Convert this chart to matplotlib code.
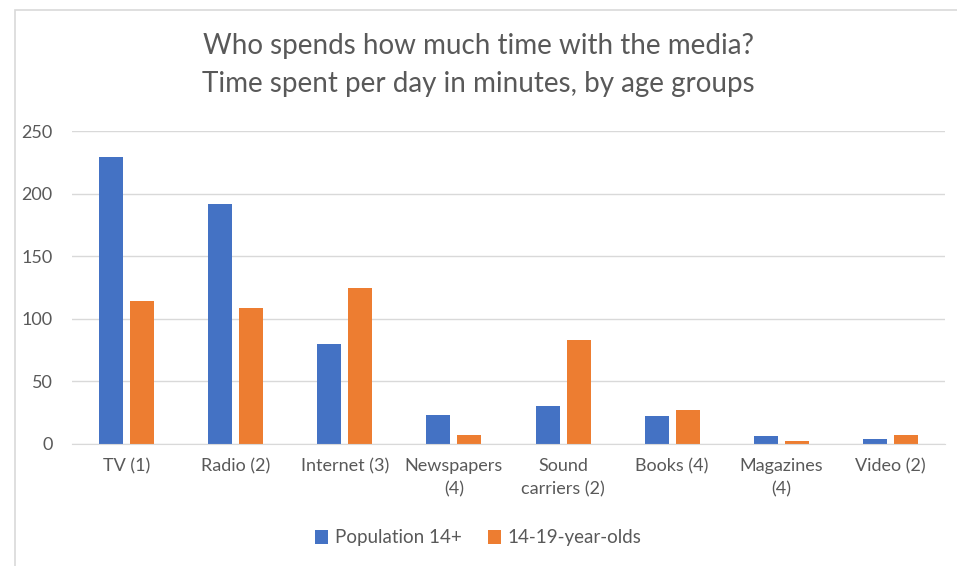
import numpy as np
import matplotlib.pyplot as plt
from matplotlib.patches import Rectangle

categories = ["TV (1)", "Radio (2)", "Internet (3)", "Newspapers\n(4)",
              "Sound\ncarriers (2)", "Books (4)", "Magazines\n(4)", "Video (2)"]
population = [229, 192, 80, 23, 30, 22, 6, 4]
teens = [114, 109, 125, 7, 83, 27, 2, 7]
series_names = ["Population 14+", "14-19-year-olds"]

blue = "#4472C4"
orange = "#ED7D31"
text_gray = "#595959"

plt.rcParams['font.family'] = ['Lato', 'DejaVu Sans']

fig = plt.figure(figsize=(9.57, 5.66), dpi=100)
# outer chart border, open to the right and bottom like the screenshot
fig.patches.append(Rectangle((15 / 957, -0.01), 1.0, 1 - 10 / 566 + 0.01,
                             transform=fig.transFigure, fill=False,
                             edgecolor="#D9D9D9", linewidth=1.2))

ax = fig.add_axes([72 / 957, 1 - 444 / 566, 873 / 957, 313 / 566])

x = np.arange(len(categories))
w = 0.22
ax.bar(x - 0.142, population, w, color=blue, label=series_names[0])
ax.bar(x + 0.142, teens, w, color=orange, label=series_names[1])

ax.set_xlim(-0.5, len(categories) - 0.5)
ax.set_ylim(0, 250)
ax.set_yticks(range(0, 251, 50))
ax.yaxis.grid(True, color="#D9D9D9", linewidth=1)
ax.set_axisbelow(True)
for s in ["top", "right", "left"]:
    ax.spines[s].set_visible(False)
ax.spines["bottom"].set_color("#D9D9D9")
ax.tick_params(axis="both", length=0, labelsize=13, colors=text_gray)
ax.tick_params(axis="y", pad=14)
ax.tick_params(axis="x", pad=10)
ax.set_xticks(x)
ax.set_xticklabels(categories, linespacing=1.55)

fig.text(0.5, 1 - 65 / 566, "Who spends how much time with the media?\nTime spent per day in minutes, by age groups",
         ha="center", va="center", fontsize=20, color=text_gray, linespacing=1.6)

fig.legend(loc="center", bbox_to_anchor=(0.5, 1 - 538 / 566), ncol=2, frameon=False,
           fontsize=13.5, labelcolor=text_gray, handlelength=0.7, handleheight=0.7,
           handletextpad=0.35, columnspacing=1.4)

fig.savefig("out.png", dpi=100)
